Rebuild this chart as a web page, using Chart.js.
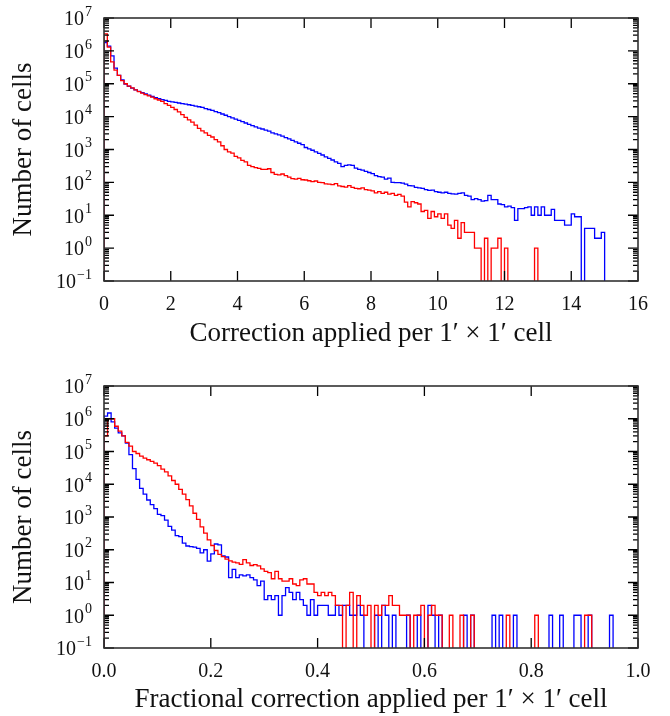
<!DOCTYPE html>
<html>
<head>
<meta charset="utf-8">
<script src="https://cdn.jsdelivr.net/npm/chart.js@4.4.1/dist/chart.umd.min.js"></script>
<style>
  html, body { margin: 0; padding: 0; background: #fff; }
  .panel { position: absolute; left: 0; width: 670px; height: 358px; }
  #top-panel { top: 0; }
  #bottom-panel { top: 358px; }
</style>
</head>
<body>
<div class="panel" id="top-panel"><canvas id="correction-chart" width="670" height="358"></canvas></div>
<div class="panel" id="bottom-panel"><canvas id="fraction-chart" width="670" height="358"></canvas></div>
<script>
// top panel: absolute correction, 150 bins of 0.1
const CORRECTION_BIN_WIDTH = 0.1;
const CORRECTION_BLUE = [
  1.8e6, 1.4e6, 7.0e5, 3.0e5, 1.8e5, 1.3e5, 9.8e4, 8.4e4, 7.4e4, 6.5e4,
  5.9e4, 5.4e4, 4.9e4, 4.5e4, 4.1e4, 3.8e4, 3.5e4, 3.3e4, 3.1e4, 2.9e4,
  2.8e4, 2.7e4, 2.6e4, 2.5e4, 2.4e4, 2.3e4, 2.2e4, 2.1e4, 2.0e4, 1.9e4,
  1.75e4, 1.65e4, 1.55e4, 1.42e4, 1.32e4, 1.2e4, 1.1e4, 1.0e4, 9.2e3, 8.4e3,
  7.7e3, 7.0e3, 6.4e3, 5.8e3, 5.3e3, 4.9e3, 4.5e3, 4.2e3, 3.9e3, 3.6e3,
  3.2e3, 3.0e3, 2.8e3, 2.55e3, 2.3e3, 2.1e3, 1.9e3, 1.7e3, 1.55e3, 1.4e3,
  1.15e3, 1.05e3, 950, 850, 760, 680, 600, 540, 480, 420,
  380, 300, 330, 340, 330, 270, 250, 235, 215, 200,
  185, 160, 150, 145, 125, 135, 100, 98, 98, 95,
  88, 80, 78, 70, 68, 66, 60, 57, 58, 52,
  50, 48, 50, 46, 45, 44, 46, 48, 40, 38,
  30, 32, 30, 27, 28, 40, 30, 30, 22, 21,
  18, 19, 17, 7, 16, 16, 17, 18, 10, 18,
  10, 18, 10, 10, 15, 7, 7, 7, 5, 5,
  11, 9, 9, 0, 4, 4, 4, 2, 2, 3,
];
const CORRECTION_RED = [
  3.3e6, 1.3e6, 4.6e5, 2.6e5, 1.8e5, 1.25e5, 1.0e5, 8.5e4, 7.5e4, 6.5e4,
  5.8e4, 5.2e4, 4.7e4, 4.3e4, 3.9e4, 3.5e4, 3.2e4, 2.9e4, 2.5e4, 2.2e4,
  1.9e4, 1.65e4, 1.4e4, 1.15e4, 9.5e3, 8.0e3, 6.8e3, 5.5e3, 4.4e3, 3.7e3,
  3.2e3, 2.7e3, 2.4e3, 2.0e3, 1.7e3, 1.3e3, 1.0e3, 850, 780, 620,
  560, 470, 420, 330, 300, 280, 265, 250, 250, 260,
  200, 175, 170, 180, 160, 145, 130, 125, 132, 120,
  118, 112, 105, 110, 100, 98, 90, 88, 85, 92,
  78, 75, 72, 80, 70, 66, 64, 68, 60, 58,
  55, 48, 52, 46, 50, 44, 46, 40, 43, 38,
  25, 18, 26, 24, 22, 13, 14, 8, 13, 9,
  11, 8, 11, 5, 4, 7, 2, 6, 3, 3,
  3, 1, 1, 0, 2, 0, 1, 1, 2, 0,
  1, 0, 0, 0, 0, 0, 0, 0, 0, 1,
  0, 0, 0, 0, 0, 0, 0, 0, 0, 0,
  0, 0, 0, 0, 0, 0, 0, 0, 0, 0,
];

// bottom panel: fractional correction, 150 bins over 0..1
const FRACTION_BIN_WIDTH = 1 / 150;
const FRACTION_BLUE = [
  1.2e6, 1.5e6, 8.0e5, 5.2e5, 3.7e5, 3.0e5, 1.8e5, 8.0e4, 3.0e4, 1.4e4,
  7.5e3, 5.0e3, 3.3e3, 2.4e3, 1.8e3, 1.2e3, 1.1e3, 800, 520, 400,
  270, 250, 160, 130, 125, 120, 110, 80, 100, 45,
  75, 150, 140, 65, 60, 14, 25, 14, 17, 16,
  17, 14, 12, 8, 11, 3, 4, 3, 4, 1,
  4, 7, 5, 3, 5, 3, 2, 1, 3, 1,
  2, 2, 2, 1, 1, 2, 1, 2, 2, 1,
  1, 2, 1, 0, 0, 0, 1, 0, 2, 1,
  0, 1, 0, 0, 0, 1, 0, 0, 1, 0,
  0, 2, 1, 0, 1, 0, 0, 0, 0, 0,
  0, 1, 0, 1, 0, 0, 0, 0, 0, 1,
  0, 1, 0, 0, 0, 1, 0, 0, 0, 0,
  0, 0, 0, 0, 0, 1, 0, 0, 1, 0,
  0, 0, 1, 1, 0, 0, 1, 0, 0, 0,
  0, 0, 1, 0, 0, 0, 0, 0, 0, 0,
];
const FRACTION_RED = [
  3.0e5, 1.0e6, 1.0e6, 5.9e5, 4.2e5, 3.0e5, 1.9e5, 1.45e5, 1.0e5, 8.7e4,
  7.2e4, 6.3e4, 5.6e4, 5.0e4, 4.4e4, 3.7e4, 2.9e4, 2.4e4, 1.8e4, 1.3e4,
  1.0e4, 7.0e3, 5.0e3, 3.4e3, 2.2e3, 1.3e3, 850, 500, 320, 200,
  135, 95, 72, 62, 52, 46, 42, 40, 36, 50,
  40, 33, 35, 32, 26, 22, 20, 13, 22, 13,
  11, 11, 13, 9, 8, 12, 13, 9, 9, 5,
  4, 5, 4, 5, 4, 2, 2, 0, 2, 5,
  0, 4, 2, 1, 2, 0, 2, 1, 2, 2,
  4, 2, 2, 1, 1, 1, 0, 1, 1, 2,
  0, 1, 2, 1, 1, 0, 0, 1, 0, 0,
  1, 0, 0, 1, 0, 0, 0, 0, 0, 0,
  0, 0, 0, 1, 0, 0, 0, 0, 0, 0,
  0, 1, 0, 0, 0, 0, 0, 0, 0, 0,
  0, 0, 0, 0, 0, 1, 1, 0, 0, 0,
  0, 0, 0, 0, 0, 0, 0, 0, 0, 0,
];

const CORRECTION_X_TICKS = [0, 2, 4, 6, 8, 10, 12, 14, 16];
const FRACTION_X_TICKS = [0, 0.2, 0.4, 0.6, 0.8, 1.0];
const Y_EXPONENTS = [-1, 0, 1, 2, 3, 4, 5, 6, 7];

const FONT = '"Liberation Serif", "DejaVu Serif", serif';
const TICK_SIZE = 20;
const SUP_SIZE = 14;
const TITLE_SIZE = 27;
const EMPTY_BIN = 0.01; // empty bins fall below the axis and get clipped

Chart.defaults.font.family = FONT;

function stepPoints(counts, binWidth) {
  const points = [{ x: 0, y: EMPTY_BIN }];
  counts.forEach((count, i) => {
    points.push({ x: i * binWidth, y: count > 0 ? count : EMPTY_BIN });
  });
  points.push({ x: counts.length * binWidth, y: EMPTY_BIN });
  return points;
}

// inward ticks on all four sides, the box, and 10^n labels
const axisFrame = {
  id: 'axisFrame',
  afterDatasetsDraw(chart) {
    const { ctx, chartArea: area, scales: { x, y } } = chart;
    ctx.save();

    ctx.strokeStyle = '#000';
    ctx.lineWidth = 1.3;
    ctx.beginPath();
    x.ticks.forEach(({ value }) => {
      const px = x.getPixelForValue(value);
      ctx.moveTo(px, area.bottom);
      ctx.lineTo(px, area.bottom - 10);
      ctx.moveTo(px, area.top);
      ctx.lineTo(px, area.top + 10);
    });
    Y_EXPONENTS.forEach((exp) => {
      for (let m = 1; m <= 9; m++) {
        const value = m * 10 ** exp;
        if (value > 1e7 * 1.0001) break;
        const py = y.getPixelForValue(value);
        const len = m === 1 ? 10 : 5;
        ctx.moveTo(area.left, py);
        ctx.lineTo(area.left + len, py);
        ctx.moveTo(area.right, py);
        ctx.lineTo(area.right - len, py);
      }
    });
    ctx.stroke();

    ctx.strokeStyle = '#333';
    ctx.lineWidth = 1.6;
    ctx.strokeRect(area.left, area.top, area.width, area.height);

    ctx.fillStyle = '#111';
    ctx.textBaseline = 'middle';
    ctx.textAlign = 'left';
    const right = area.left - 12;
    Y_EXPONENTS.forEach((exp) => {
      const py = y.getPixelForValue(10 ** exp);
      const sup = exp < 0 ? '\u2212' + Math.abs(exp) : String(exp);
      ctx.font = `${SUP_SIZE}px ${FONT}`;
      const supWidth = ctx.measureText(sup).width;
      ctx.fillText(sup, right - supWidth, py - 6);
      ctx.font = `${TICK_SIZE}px ${FONT}`;
      const baseWidth = ctx.measureText('10').width;
      ctx.fillText('10', right - supWidth - baseWidth - 1, py + 2);
    });

    ctx.restore();
  },
};

function renderPanel(canvasId, panel) {
  new Chart(document.getElementById(canvasId), {
    type: 'line',
    data: {
      datasets: [
        {
          data: stepPoints(panel.red, panel.binWidth),
          borderColor: '#ff0000',
          borderWidth: 1.3,
        },
        {
          data: stepPoints(panel.blue, panel.binWidth),
          borderColor: '#0000ff',
          borderWidth: 1.3,
        },
      ],
    },
    options: {
      responsive: false,
      animation: false,
      parsing: false,
      elements: {
        line: { stepped: 'before', tension: 0, fill: false },
        point: { radius: 0 },
      },
      layout: {
        padding: { top: panel.padTop, right: 32, bottom: 0, left: 0 },
      },
      plugins: {
        legend: { display: false },
        tooltip: { enabled: false },
      },
      scales: {
        x: {
          type: 'linear',
          min: panel.xTicks[0],
          max: panel.xTicks[panel.xTicks.length - 1],
          afterBuildTicks: (scale) => {
            scale.ticks = panel.xTicks.map((value) => ({ value }));
          },
          afterFit: (scale) => {
            scale.height = panel.xAxisHeight;
          },
          grid: { display: false, drawTicks: false },
          border: { display: false },
          ticks: {
            padding: 12,
            color: '#111',
            maxRotation: 0,
            autoSkip: false,
            font: { size: TICK_SIZE },
            callback: panel.xLabel,
          },
          title: {
            display: true,
            text: panel.xTitle,
            color: '#111',
            font: { size: TITLE_SIZE },
            padding: { top: 0, bottom: panel.titlePad },
          },
        },
        y: {
          type: 'logarithmic',
          min: 0.1,
          max: 1e7,
          afterFit: (scale) => {
            scale.width = 104;
          },
          grid: { display: false, drawTicks: false },
          border: { display: false },
          ticks: { display: false },
          title: {
            display: true,
            text: 'Number of cells',
            color: '#111',
            font: { size: TITLE_SIZE },
            padding: { top: 8, bottom: 0 },
          },
        },
      },
    },
    plugins: [axisFrame],
  });
}

renderPanel('correction-chart', {
  blue: CORRECTION_BLUE,
  red: CORRECTION_RED,
  binWidth: CORRECTION_BIN_WIDTH,
  xTicks: CORRECTION_X_TICKS,
  xLabel: (value) => String(value),
  xTitle: 'Correction applied per 1\u2032 \u00d7 1\u2032 cell',
  padTop: 18,
  xAxisHeight: 77,
  titlePad: 8,
});

renderPanel('fraction-chart', {
  blue: FRACTION_BLUE,
  red: FRACTION_RED,
  binWidth: FRACTION_BIN_WIDTH,
  xTicks: FRACTION_X_TICKS,
  xLabel: (value) => Number(value).toFixed(1),
  xTitle: 'Fractional correction applied per 1\u2032 \u00d7 1\u2032 cell',
  padTop: 28,
  xAxisHeight: 68,
  titlePad: 0,
});
</script>
</body>
</html>
